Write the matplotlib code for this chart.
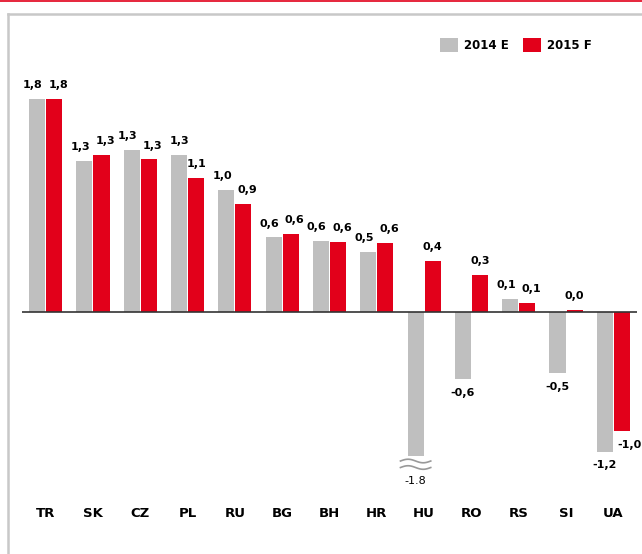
import numpy as np
import matplotlib.pyplot as plt
from matplotlib.lines import Line2D

plt.rcParams['font.family'] = ['DejaVu Sans']

# Dữ liệu
countries = ['TR', 'SK', 'CZ', 'PL', 'RU', 'BG', 'BH', 'HR', 'HU', 'RO', 'RS', 'SI', 'UA']
vals_2014 = [1.80, 1.28, 1.37, 1.33, 1.03, 0.63, 0.60, 0.51, -1.80, -0.57, 0.11, -0.52, -1.18]
vals_2015 = [1.80, 1.33, 1.29, 1.13, 0.91, 0.66, 0.59, 0.58, 0.43, 0.31, 0.08, 0.02, -1.01]
labels_2014 = ['1,8', '1,3', '1,3', '1,3', '1,0', '0,6', '0,6', '0,5', '-1.8', '-0,6', '0,1', '-0,5', '-1,2']
labels_2015 = ['1,8', '1,3', '1,3', '1,1', '0,9', '0,6', '0,6', '0,6', '0,4', '0,3', '0,1', '0,0', '-1,0']

GREY = '#bfbfbf'
RED = '#e2001a'
BREAK = -1.22   # cột HU bị cắt ở đây

fig = plt.figure(figsize=(6.42, 5.54), dpi=100)
ax = fig.add_axes([22 / 642, (554 - 503) / 554, 615 / 642, 439.4 / 554])

x = np.arange(len(countries))
w = 0.34
shown_2014 = [max(v, BREAK) for v in vals_2014]
ax.bar(x - 0.18, shown_2014, w, color=GREY, label='2014 E')
ax.bar(x + 0.18, vals_2015, w, color=RED, label='2015 F')
ax.axhline(0, color='#333333', lw=1.2)

# Dấu ngắt trên cột HU
for i, v in enumerate(vals_2014):
    if v < BREAK:
        xs = np.linspace(i - 0.18 - 0.32, i - 0.18 + 0.32, 40)
        for k in range(2):
            ys = BREAK - 0.04 - 0.055 * k + 0.015 * np.sin((xs - xs[0]) / (xs[-1] - xs[0]) * 2 * np.pi)
            ax.plot(xs, ys, color='#999999', lw=1.2)

# Nhãn giá trị
for i in range(len(countries)):
    a, b = vals_2014[i], vals_2015[i]
    spread = 3 if (a > 0 and b > 0 and abs(a - b) < 0.15) else 0
    for off, v, s, lab, sx in [(-0.18, shown_2014[i], a, labels_2014[i], -spread),
                               (0.18, b, b, labels_2015[i], spread)]:
        dx = 0.17 if (v < 0 and off > 0) else 0
        if v >= 0:
            dy = 10
        elif s < BREAK:
            dy = -18
        else:
            dy = -9.5
        ax.annotate(lab, (i + off + dx, v), xytext=(sx, dy), textcoords='offset points',
                    ha='center', va='center', fontsize=8,
                    fontweight='normal' if s < BREAK else 'bold', color='#000000')

ax.set_xlim(-0.5, 12.5)
ax.set_ylim(-1.615, 2.1)
ax.set_yticks([])
ax.set_xticks(x)
ax.set_xticklabels(countries, fontsize=9.5, fontweight='bold')
ax.tick_params(axis='x', length=0, pad=3)
for sp in ax.spines.values():
    sp.set_visible(False)

fig.legend(loc='upper right', bbox_to_anchor=(602 / 642, 1 - 27 / 554), ncol=2, frameon=False,
           prop={'weight': 'bold', 'size': 8.5}, handlelength=1.5, handleheight=1.5,
           handletextpad=0.5, columnspacing=1.2)

# Khung
fig.add_artist(Line2D([0, 1], [1 - 1 / 554, 1 - 1 / 554], color=RED, lw=1.2))
fig.add_artist(Line2D([8 / 642, 1], [1 - 14 / 554, 1 - 14 / 554], color='#c8c8c8', lw=1.8))
fig.add_artist(Line2D([8 / 642, 8 / 642], [0, 1 - 14 / 554], color='#c8c8c8', lw=1.8))

fig.savefig('out.png', dpi=100)
